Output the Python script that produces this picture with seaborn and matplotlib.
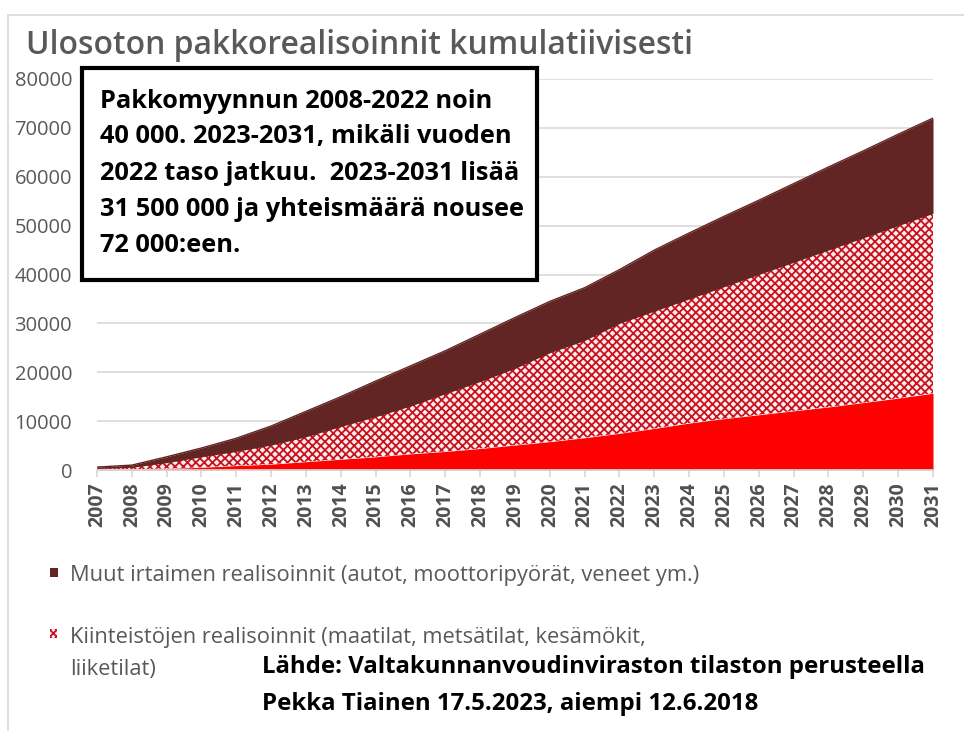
import matplotlib
matplotlib.use('Agg')
import numpy as np
import matplotlib.pyplot as plt
import matplotlib.patches as mpatches
from matplotlib.lines import Line2D
import seaborn as sns

# Cumulative enforcement sales per year
years = list(range(2007, 2032))
tick_labels = [str(y) for y in years]
y_ticks = list(range(0, 80001, 10000))

# bottom layer (solid red, not named in the legend)
red_values = [100, 150, 300, 550, 900, 1200, 1700, 2200, 2700, 3300, 3800, 4400, 5100,
              5800, 6600, 7500, 8500, 9600, 10500, 11300, 12100, 12900, 13800, 14700, 15700]
# middle layer: Kiinteistöjen realisoinnit (checkered)
property_values = [200, 400, 1200, 2150, 2900, 3900, 5100, 6700, 8200, 9800, 11800, 13700, 15700,
                   18200, 19900, 22500, 24000, 25400, 27000, 28700, 30400, 32100, 33700, 35300, 36800]
# top layer: Muut irtaimen realisoinnit (dark brown)
other_values = [300, 450, 1200, 1800, 2700, 3900, 5200, 6100, 7300, 8200, 8800, 9700, 10400,
                10500, 10800, 11000, 12500, 13500, 14400, 15200, 16100, 17000, 17800, 18700, 19500]

title = 'Ulosoton pakkorealisoinnit kumulatiivisesti'
legend_labels = ['Muut irtaimen realisoinnit (autot, moottoripyörät, veneet ym.)',
                 'Kiinteistöjen realisoinnit (maatilat, metsätilat, kesämökit,\nliiketilat)']
note_lines = ['Pakkomyynnun 2008-2022 noin',
              '40 000. 2023-2031, mikäli vuoden',
              '2022 taso jatkuu.  2023-2031 lisää',
              '31 500 000 ja yhteismäärä nousee',
              '72 000:een.']
source_lines = ['Lähde: Valtakunnanvoudinviraston tilaston perusteella',
                'Pekka Tiainen 17.5.2023, aiempi 12.6.2018']

RED = '#ff0000'
BROWN = '#632523'
CHECK = '#c8101e'
CHECK_BG = '#fdeeee'
GREY = '#595959'

sns.set_theme(style='white')
plt.rcParams['font.family'] = ['Open Sans', 'DejaVu Sans']
plt.rcParams['hatch.linewidth'] = 1.3

W, H = 964, 731
fig = plt.figure(figsize=(W / 100, H / 100), dpi=100)


def fx(px):
    return px / W


def fy(py):
    return 1 - py / H


ax = fig.add_axes([fx(97), fy(470), (933 - 97) / W, (470 - 79) / H])

polys = ax.stackplot(years, red_values, property_values, other_values,
                     colors=[RED, CHECK_BG, BROWN], linewidth=0)
polys[1].set_edgecolor(CHECK)
polys[1].set_hatch('xxxx')

# crisp upper edge of the dark layer
totals = np.cumsum([red_values, property_values, other_values], axis=0)
sns.lineplot(x=years, y=totals[2], color=BROWN, linewidth=1, ax=ax)

ax.set_xlim(2007, 2031)
ax.set_ylim(0, 80000)
ax.set_yticks(y_ticks)
ax.set_yticklabels([str(v) for v in y_ticks])
ax.set_xticks(years)
ax.set_xticklabels(tick_labels, rotation=90, fontweight='bold', color='#505050', fontsize=14)
ax.yaxis.grid(True, color='#d9d9d9', linewidth=1.2)
ax.xaxis.grid(False)
ax.set_axisbelow(True)
for s in ['top', 'right', 'left']:
    ax.spines[s].set_visible(False)
ax.spines['bottom'].set_color('#d9d9d9')
ax.tick_params(axis='y', length=0, pad=18, labelsize=14.5, labelcolor=GREY)
ax.tick_params(axis='x', bottom=True, length=5, color='#d9d9d9', pad=4)

# light frame around the picture
fig.add_artist(Line2D([fx(8), 1], [fy(15), fy(15)], color='#d9d9d9', lw=1.2, transform=fig.transFigure))
fig.add_artist(Line2D([fx(8), fx(8)], [fy(15), 0], color='#d9d9d9', lw=1.2, transform=fig.transFigure))

renderer = fig.canvas.get_renderer()


def fit(t, width):
    w = t.get_window_extent(renderer).width
    t.set_fontsize(t.get_fontsize() * width / w)
    return t.get_fontsize()


t = fig.text(fx(26), fy(54), title, ha='left', va='baseline', color=GREY, fontsize=24,
             fontweight='semibold')
fit(t, 667)

# note box
box = mpatches.Rectangle((fx(82), fy(280)), (537 - 82) / W, (280 - 68) / H,
                         transform=fig.transFigure, facecolor='white', edgecolor='black',
                         lw=3, zorder=5)
fig.add_artist(box)
note_y = [98, 134, 170, 206, 242]
probe = fig.text(0, 0, note_lines[1], fontweight='bold', fontsize=16)
note_size = fit(probe, 412)
probe.remove()
for line, yy in zip(note_lines, note_y):
    fig.text(fx(100), fy(yy), line, ha='left', va='center_baseline', fontweight='bold',
             color='black', fontsize=note_size, zorder=6)

# legend (two entries as in the original)
fig.add_artist(mpatches.Rectangle((fx(50), fy(577)), 8 / W, 9 / H, transform=fig.transFigure,
                                  facecolor=BROWN, edgecolor='none'))
fig.add_artist(mpatches.Rectangle((fx(50), fy(638)), 7 / W, 9 / H, transform=fig.transFigure,
                                  facecolor=CHECK_BG, edgecolor=CHECK, hatch='xxxxx', lw=0))
t1 = fig.text(fx(70), fy(573), legend_labels[0], ha='left', va='center_baseline', color=GREY, fontsize=13)
leg_size = fit(t1, 625)
l2a, l2b = legend_labels[1].split('\n')
fig.text(fx(70), fy(635), l2a, ha='left', va='center_baseline', color=GREY, fontsize=leg_size)
fig.text(fx(70), fy(667), l2b, ha='left', va='center_baseline', color=GREY, fontsize=leg_size)

# source
s1 = fig.text(fx(262), fy(664), source_lines[0], ha='left', va='center_baseline',
              fontweight='bold', color='black', fontsize=15)
src_size = fit(s1, 666)
fig.text(fx(262), fy(701), source_lines[1], ha='left', va='center_baseline',
         fontweight='bold', color='black', fontsize=src_size)

fig.savefig('out.png', dpi=100)
